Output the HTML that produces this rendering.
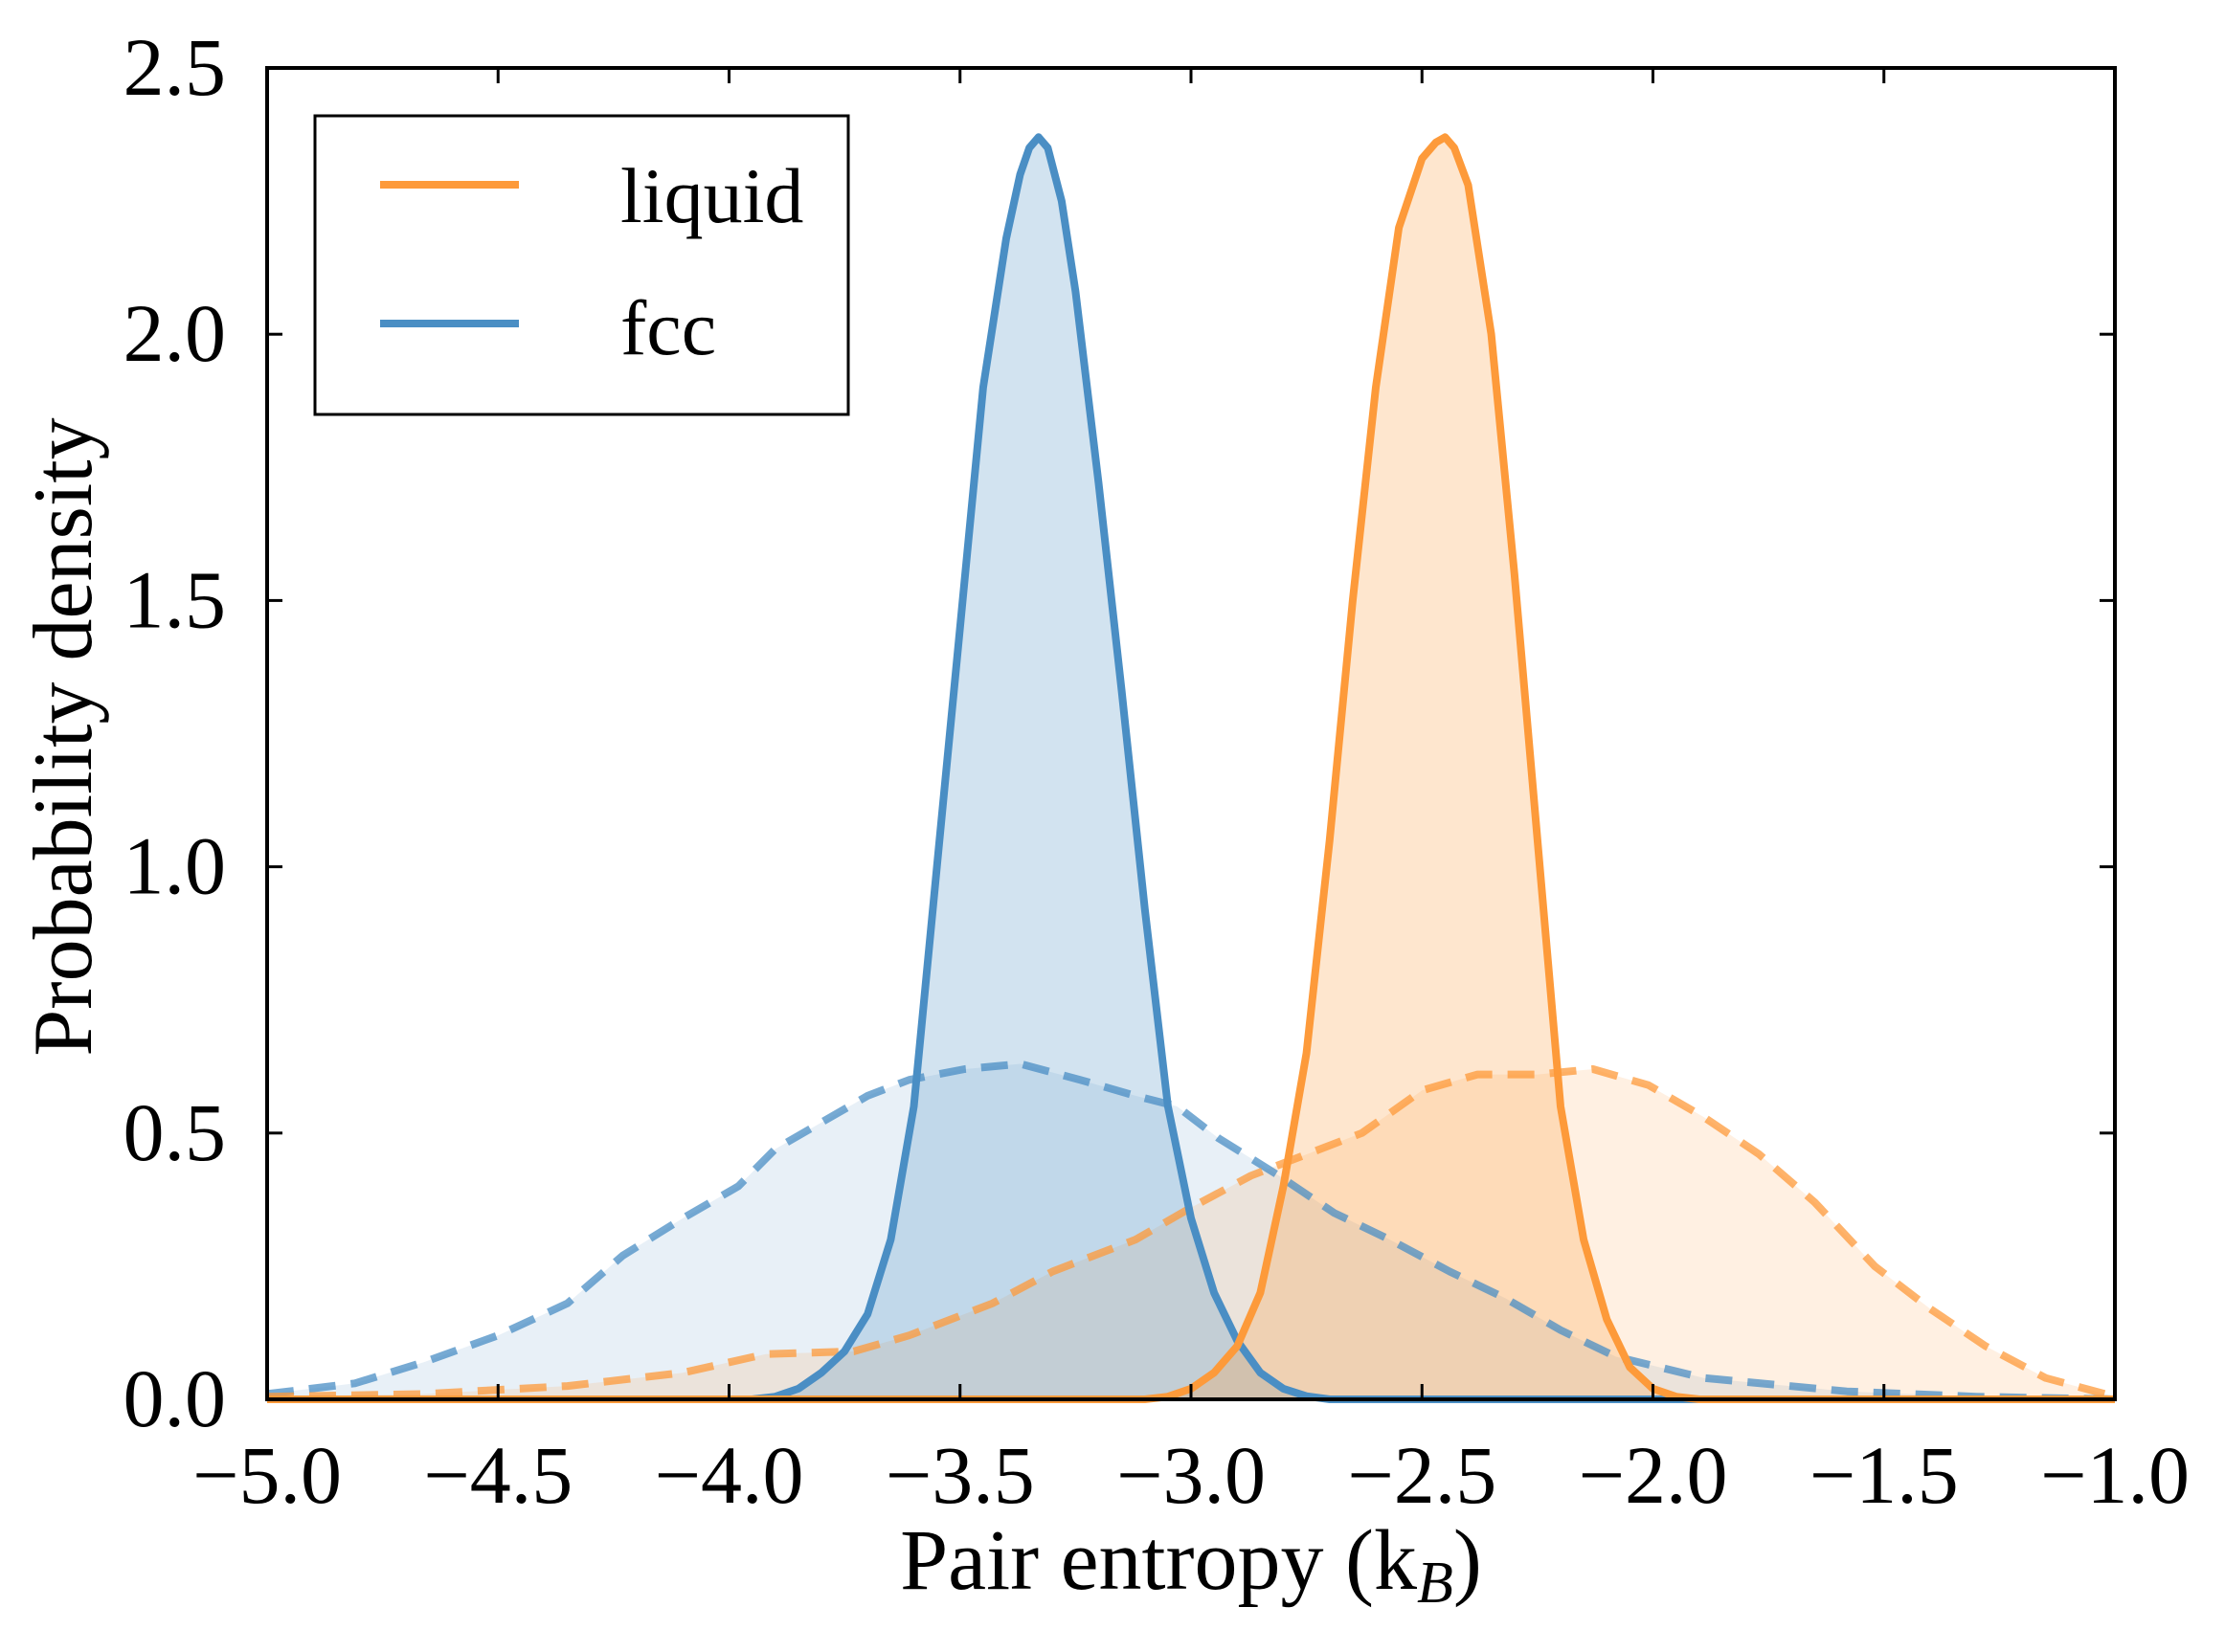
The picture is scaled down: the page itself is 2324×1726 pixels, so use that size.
<!DOCTYPE html>
<html><head><meta charset="utf-8"><style>
html,body{margin:0;padding:0;background:#fff}
svg text{font-family:"Liberation Serif",serif;fill:#000}
</style></head><body>
<svg id="chart" width="2324" height="1721" viewBox="0 0 2324 1721" xmlns="http://www.w3.org/2000/svg">
<g id="plot"></g>
</svg>
<script>
const xTicks=[-5.0,-4.5,-4.0,-3.5,-3.0,-2.5,-2.0,-1.5,-1.0];
const yTicks=[0.0,0.5,1.0,1.5,2.0,2.5];
const fccSolidX=[-5.0,-3.95,-3.9,-3.85,-3.8,-3.75,-3.7,-3.65,-3.6,-3.55,-3.5,-3.45,-3.4,-3.37,-3.35,-3.33,-3.31,-3.28,-3.25,-3.2,-3.15,-3.1,-3.05,-3.0,-2.95,-2.9,-2.85,-2.8,-2.75,-2.7,-1.0];
const fccSolidY=[0,0,0.005,0.02,0.05,0.09,0.16,0.3,0.55,1.0,1.45,1.9,2.18,2.3,2.35,2.37,2.35,2.25,2.08,1.72,1.33,0.92,0.55,0.34,0.2,0.11,0.05,0.02,0.006,0,0];
const liqSolidX=[-5.0,-3.1,-3.05,-3.0,-2.95,-2.9,-2.85,-2.8,-2.75,-2.7,-2.65,-2.6,-2.55,-2.5,-2.47,-2.45,-2.43,-2.4,-2.35,-2.3,-2.25,-2.2,-2.15,-2.1,-2.05,-2.0,-1.95,-1.9,-1.0];
const liqSolidY=[0,0,0.005,0.02,0.05,0.1,0.2,0.4,0.65,1.05,1.5,1.9,2.2,2.33,2.36,2.37,2.35,2.28,2.0,1.55,1.05,0.55,0.3,0.15,0.06,0.02,0.005,0,0];
const fccDashX=[-5.0,-4.81,-4.66,-4.5,-4.35,-4.23,-4.1,-3.98,-3.9,-3.8,-3.7,-3.61,-3.49,-3.37,-3.24,-3.12,-3.03,-2.94,-2.81,-2.69,-2.57,-2.44,-2.32,-2.2,-2.08,-1.89,-1.58,-1.3,-1.0];
const fccDashY=[0.01,0.03,0.07,0.12,0.18,0.27,0.34,0.4,0.47,0.52,0.57,0.6,0.62,0.63,0.6,0.57,0.55,0.49,0.42,0.35,0.3,0.24,0.19,0.13,0.08,0.04,0.015,0.005,0];
const liqDashX=[-5.0,-4.66,-4.35,-4.1,-3.92,-3.73,-3.61,-3.43,-3.3,-3.12,-3.0,-2.87,-2.75,-2.63,-2.5,-2.38,-2.25,-2.13,-2.01,-1.89,-1.77,-1.65,-1.52,-1.4,-1.28,-1.15,-1.0];
const liqDashY=[0.005,0.01,0.025,0.05,0.085,0.09,0.12,0.18,0.24,0.3,0.36,0.42,0.46,0.5,0.58,0.61,0.61,0.62,0.59,0.53,0.46,0.37,0.25,0.17,0.1,0.04,0.005];

const L=279,R=2209,T=71,B=1462;
const sx=v=>L+(v+5)/4*(R-L);
const sy=v=>B-v/2.5*(B-T);
const NS="http://www.w3.org/2000/svg";
const g=document.getElementById('plot');
function mk(tag,attrs,parent){const e=document.createElementNS(NS,tag);for(const k in attrs)e.setAttribute(k,attrs[k]);(parent||g).appendChild(e);return e;}
function linePath(xs,ys){return xs.map((x,i)=>(i?'L':'M')+sx(x).toFixed(1)+','+sy(ys[i]).toFixed(1)).join(' ');}
function areaPath(xs,ys){return linePath(xs,ys)+' L'+sx(xs[xs.length-1])+','+sy(0)+' L'+sx(xs[0])+','+sy(0)+' Z';}
const BLUE='#4a8ec4',ORANGE='#fd9a3a';
const series=[
 [fccDashX,fccDashY,BLUE,0.13,true,'fcc-dashed'],
 [liqDashX,liqDashY,ORANGE,0.15,true,'liquid-dashed'],
 [fccSolidX,fccSolidY,BLUE,0.25,false,'fcc-solid'],
 [liqSolidX,liqSolidY,ORANGE,0.25,false,'liquid-solid']
];
for(const s of series){
 const a=mk('path',{d:areaPath(s[0],s[1]),fill:s[2],'fill-opacity':s[3],stroke:'none'});
 
 
}
for(const s of series){
 const attrs={d:linePath(s[0],s[1]),fill:'none',stroke:s[2],'stroke-width':8,'stroke-linejoin':'round'};
 if(s[4]){attrs['stroke-dasharray']='28,16';attrs['stroke-opacity']=0.75;}
 const p=mk('path',attrs);
 
 
}
const fr=mk('rect',{x:L,y:T,width:R-L,height:B-T,fill:'none',stroke:'#000','stroke-width':4});


for(const v of xTicks){
 const x=sx(v);
 mk('line',{x1:x,y1:B,x2:x,y2:B-16,stroke:'#000','stroke-width':3});
 mk('line',{x1:x,y1:T,x2:x,y2:T+16,stroke:'#000','stroke-width':3});
 const t=mk('text',{x:x,y:1570,'text-anchor':'middle','font-size':86});
 t.textContent=(v<0?'\u2212':'')+Math.abs(v).toFixed(1);
 
 
}
for(const v of yTicks){
 const y=sy(v);
 mk('line',{x1:L,y1:y,x2:L+16,y2:y,stroke:'#000','stroke-width':3});
 mk('line',{x1:R,y1:y,x2:R-16,y2:y,stroke:'#000','stroke-width':3});
 const t=mk('text',{x:236,y:y+28,'text-anchor':'end','font-size':86});
 t.textContent=v.toFixed(1);
 
 
}
</script>
<svg style="position:absolute;left:0;top:0" width="2324" height="1721">
<text x="1244" y="1660" text-anchor="middle" font-size="90">Pair entropy (k<tspan font-size="62" font-style="italic" dy="14">B</tspan><tspan dy="-14">)</tspan></text>
<text transform="translate(95,770) rotate(-90)" text-anchor="middle" font-size="88">Probability density</text>
<g>
<rect x="329" y="121" width="557" height="312" fill="#fff" stroke="#000" stroke-width="3"/>
<line x1="397" y1="193" x2="542" y2="193" stroke="#fd9a3a" stroke-width="8"/>
<text x="648" y="232" font-size="82">liquid</text>
<line x1="397" y1="338" x2="542" y2="338" stroke="#4a8ec4" stroke-width="8"/>
<text x="648" y="370" font-size="82">fcc</text>
</g>
</svg>
</body></html>
